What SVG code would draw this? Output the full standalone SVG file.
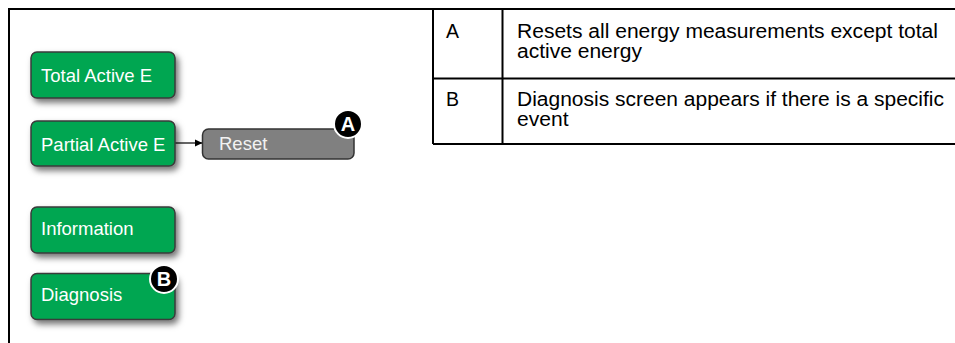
<svg xmlns="http://www.w3.org/2000/svg" width="955" height="343" viewBox="0 0 955 343">
<defs>
<filter id="sh" x="-20%" y="-30%" width="150%" height="180%">
<feDropShadow dx="3" dy="4" stdDeviation="3" flood-color="#000" flood-opacity="0.55"/>
</filter>
<marker id="arr" markerWidth="8" markerHeight="8" refX="7" refY="4" orient="auto" markerUnits="userSpaceOnUse">
<path d="M0,0.5 L7.5,4 L0,7.5 Z" fill="#000"/>
</marker>
</defs>
<style>
.frame{stroke:#000;stroke-width:2;fill:none}
.gbox{fill:#00a651;stroke:#3a3a3a;stroke-width:1.5;filter:url(#sh)}
.gtxt{font-family:"Liberation Sans",Arial,sans-serif;font-size:18.5px;fill:#fff}
.rbox{fill:#808080;stroke:#333;stroke-width:1.5}
.rtxt{font-family:"Liberation Sans",Arial,sans-serif;font-size:18.5px;fill:#f2f2f2}
.badge{fill:#000;stroke:#fff;stroke-width:2}
.btxt{font-family:"Liberation Sans",Arial,sans-serif;font-size:20px;font-weight:bold;fill:#fff;text-anchor:middle}
.ttxt{font-family:"Liberation Sans",Arial,sans-serif;font-size:19.5px;fill:#000}
</style>
<rect width="955" height="343" fill="#fff"/>
<g id="frame">
<path class="frame" d="M9,343 V9 H955"/>
</g>
<g id="table">
<path class="frame" d="M433,9 V144 M502.5,9 V144 M433,78.5 H955 M433,144 H955"/>
<text class="ttxt" x="446" y="38">A</text>
<text class="ttxt" x="517" y="38" textLength="421" lengthAdjust="spacingAndGlyphs">Resets all energy measurements except total</text>
<text class="ttxt" x="517" y="58" textLength="125" lengthAdjust="spacingAndGlyphs">active energy</text>
<text class="ttxt" x="446" y="106">B</text>
<text class="ttxt" x="517" y="106" textLength="427" lengthAdjust="spacingAndGlyphs">Diagnosis screen appears if there is a specific</text>
<text class="ttxt" x="517" y="126" textLength="51.5" lengthAdjust="spacingAndGlyphs">event</text>
</g>
<g id="connectors">
<line x1="175" y1="143" x2="202" y2="143" stroke="#000" stroke-width="1.2" marker-end="url(#arr)"/>
</g>
<g id="total-active-e">
<rect class="gbox" x="31" y="52" width="144" height="46" rx="6"/>
<text class="gtxt" x="41" y="81.5">Total Active E</text>
</g>
<g id="partial-active-e">
<rect class="gbox" x="31" y="121" width="144" height="45" rx="6"/>
<text class="gtxt" x="41" y="150.5">Partial Active E</text>
</g>
<g id="information">
<rect class="gbox" x="31" y="207" width="144" height="46" rx="6"/>
<text class="gtxt" x="41" y="234.5">Information</text>
</g>
<g id="diagnosis">
<rect class="gbox" x="31" y="273.5" width="144" height="46" rx="6"/>
<text class="gtxt" x="41" y="300.5">Diagnosis</text>
</g>
<g id="reset">
<rect class="rbox" x="202.5" y="129" width="151.5" height="30" rx="6"/>
<text class="rtxt" x="219" y="150">Reset</text>
</g>
<g id="badge-a">
<circle class="badge" cx="348" cy="124" r="14"/>
<text class="btxt" x="348" y="131">A</text>
</g>
<g id="badge-b">
<circle class="badge" cx="164" cy="279" r="14"/>
<text class="btxt" x="164" y="286">B</text>
</g>
</svg>
